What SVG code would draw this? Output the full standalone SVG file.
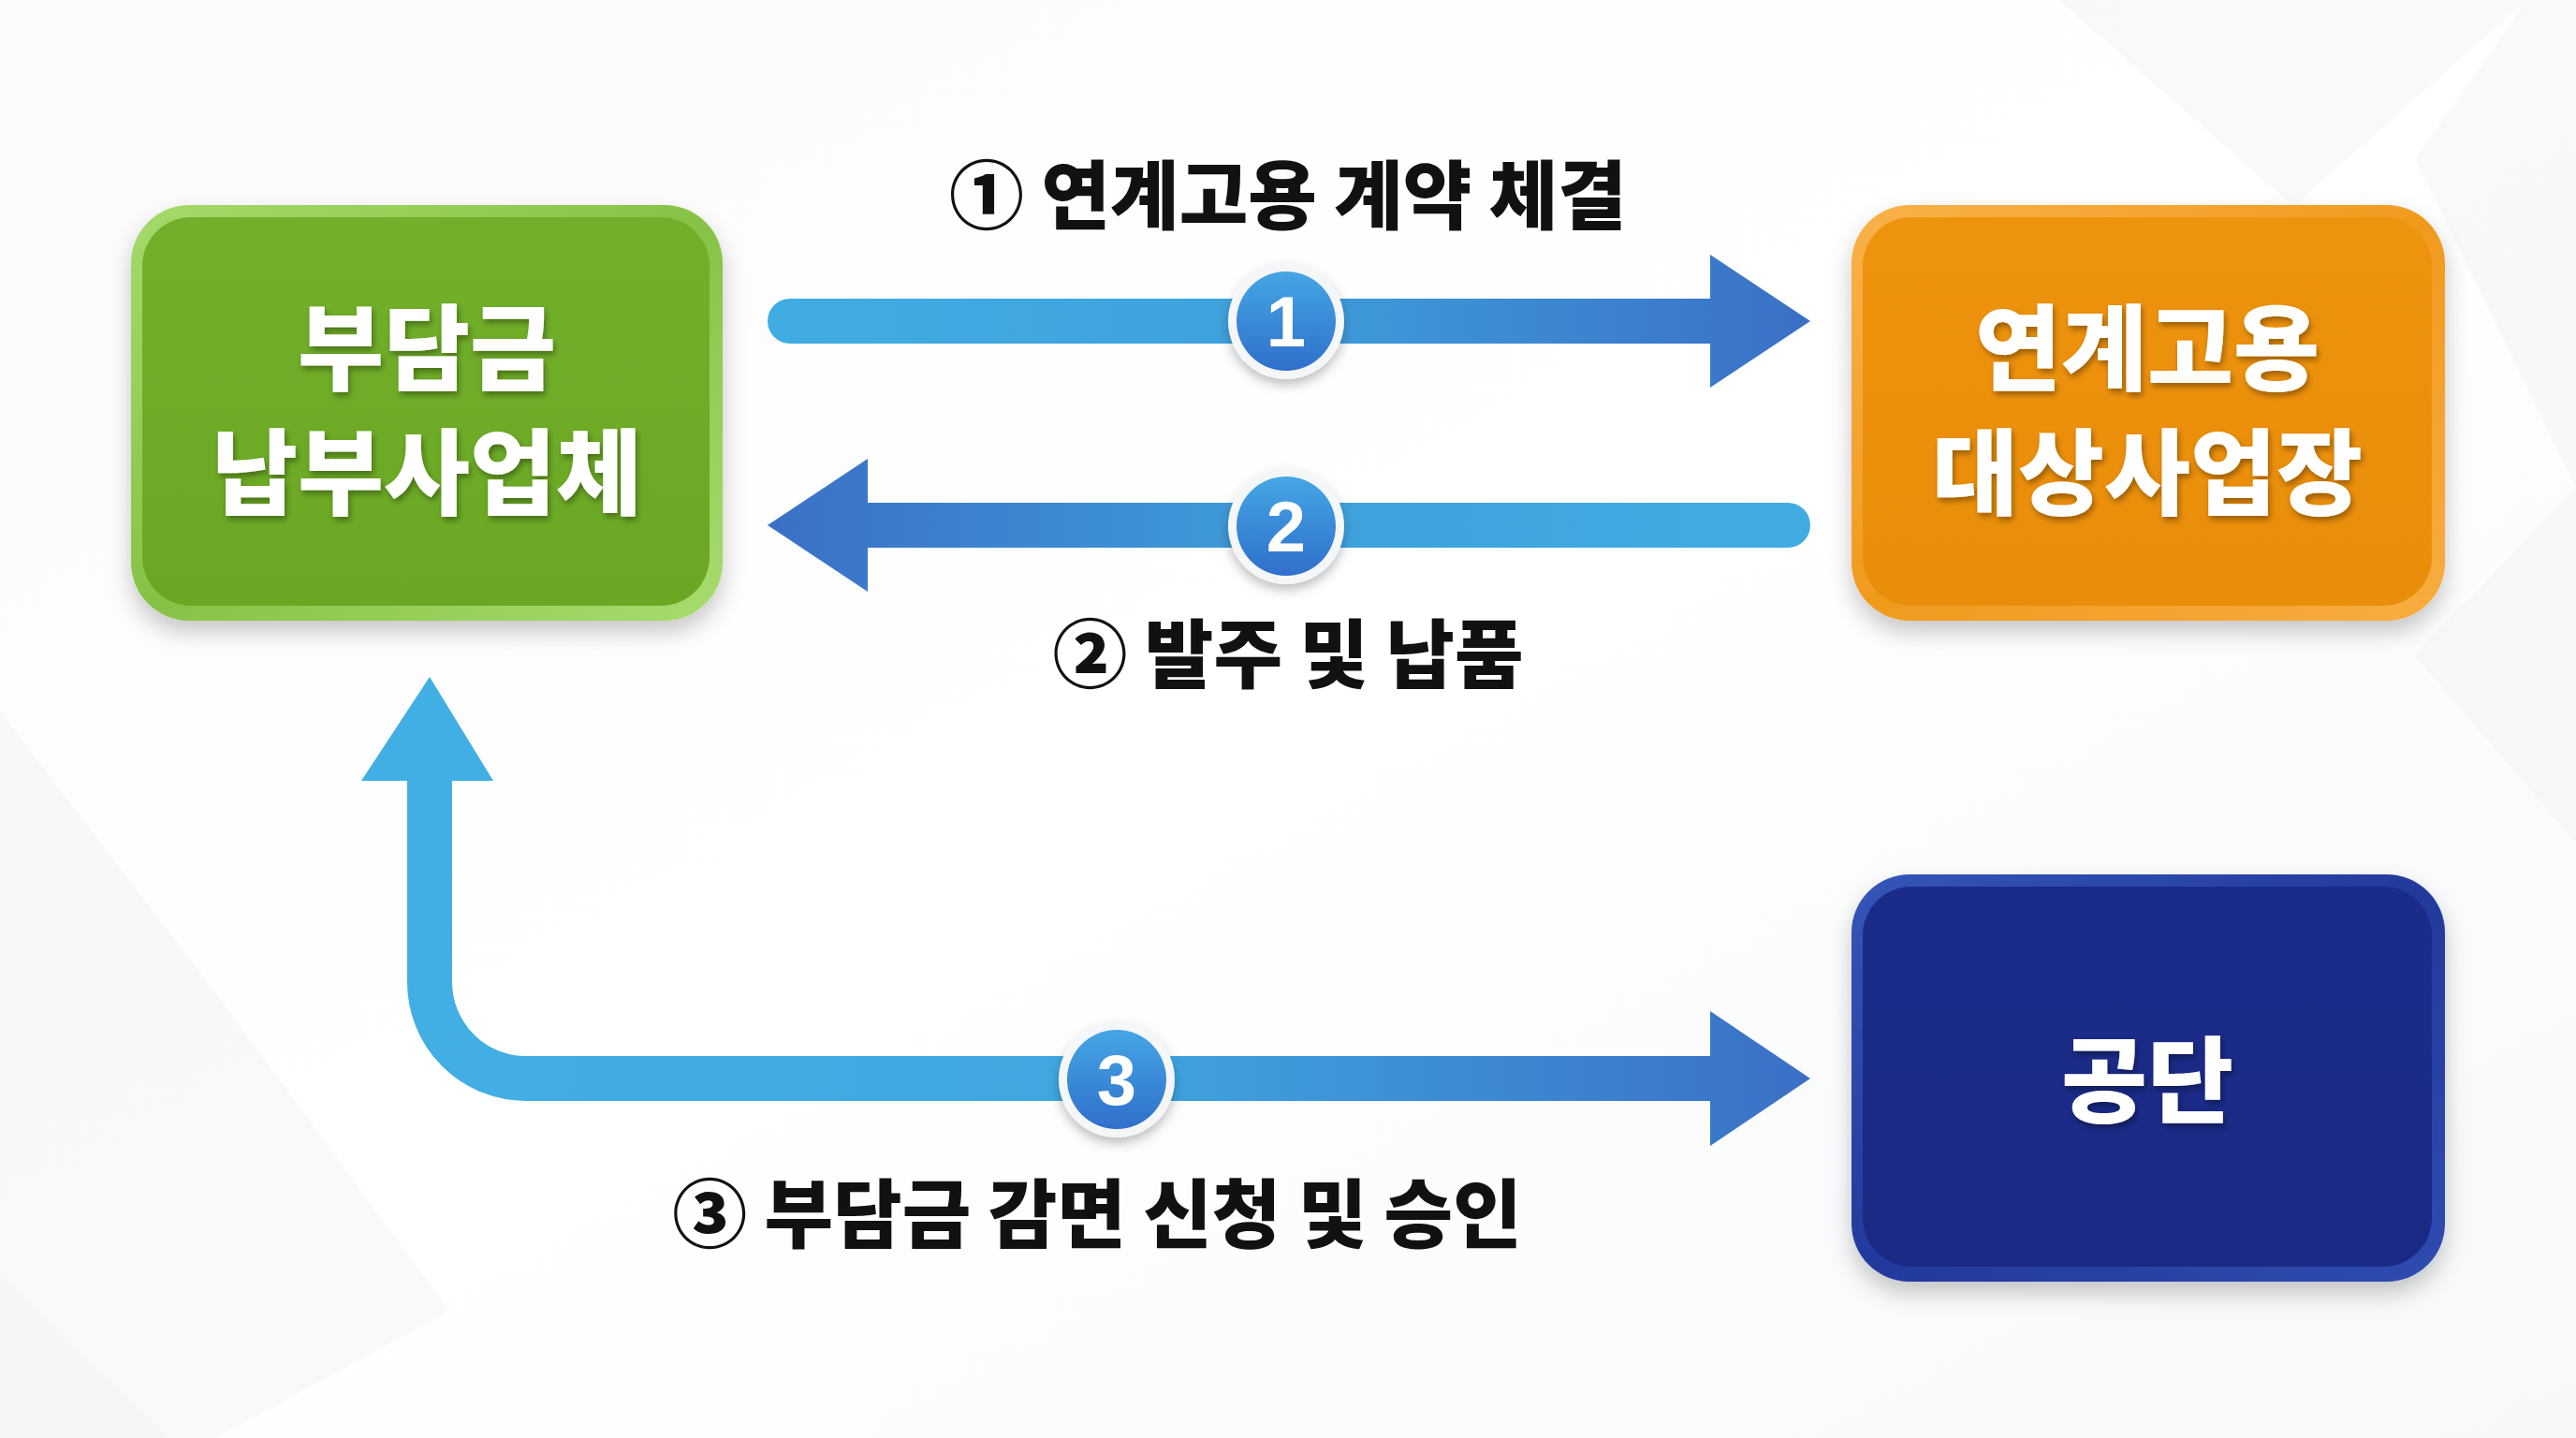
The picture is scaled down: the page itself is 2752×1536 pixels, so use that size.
<svg xmlns="http://www.w3.org/2000/svg" width="2752" height="1536" viewBox="0 0 2752 1536">
  <defs>
    <linearGradient id="bg" x1="0" y1="0" x2="1" y2="1">
      <stop offset="0" stop-color="#fbfbfc"/>
      <stop offset="0.5" stop-color="#ffffff"/>
      <stop offset="1" stop-color="#f7f8fa"/>
    </linearGradient>
    <linearGradient id="gRing" x1="0" y1="0" x2="1" y2="1">
      <stop offset="0" stop-color="#a6da6c"/>
      <stop offset="0.5" stop-color="#86c244"/>
      <stop offset="1" stop-color="#a8dc70"/>
    </linearGradient>
    <linearGradient id="gFill" x1="0" y1="0" x2="0" y2="1">
      <stop offset="0" stop-color="#72b02a"/>
      <stop offset="1" stop-color="#6aa823"/>
    </linearGradient>
    <linearGradient id="oRing" x1="0" y1="0" x2="1" y2="1">
      <stop offset="0" stop-color="#f8b24a"/>
      <stop offset="0.5" stop-color="#f09a1e"/>
      <stop offset="1" stop-color="#f7ad40"/>
    </linearGradient>
    <linearGradient id="oFill" x1="0" y1="0" x2="0" y2="1">
      <stop offset="0" stop-color="#ee930e"/>
      <stop offset="1" stop-color="#ea8d0a"/>
    </linearGradient>
    <linearGradient id="nRing" x1="0" y1="0" x2="1" y2="1">
      <stop offset="0" stop-color="#3356b8"/>
      <stop offset="0.5" stop-color="#23399c"/>
      <stop offset="1" stop-color="#2e4cb0"/>
    </linearGradient>
    <linearGradient id="nFill" x1="0" y1="0" x2="0" y2="1">
      <stop offset="0" stop-color="#1b2b8a"/>
      <stop offset="1" stop-color="#1a2a84"/>
    </linearGradient>
    <linearGradient id="arrR" gradientUnits="userSpaceOnUse" x1="820" y1="0" x2="1934" y2="0">
      <stop offset="0" stop-color="#40ace2"/>
      <stop offset="0.45" stop-color="#3fa2dc"/>
      <stop offset="1" stop-color="#3a70c6"/>
    </linearGradient>
    <linearGradient id="arrL" gradientUnits="userSpaceOnUse" x1="820" y1="0" x2="1934" y2="0">
      <stop offset="0" stop-color="#3a70c6"/>
      <stop offset="0.55" stop-color="#3fa2dc"/>
      <stop offset="1" stop-color="#40ace2"/>
    </linearGradient>
    <linearGradient id="arr3" gradientUnits="userSpaceOnUse" x1="430" y1="0" x2="1934" y2="0">
      <stop offset="0" stop-color="#42afe4"/>
      <stop offset="0.5" stop-color="#40a6df"/>
      <stop offset="1" stop-color="#3a70c6"/>
    </linearGradient>
    <linearGradient id="badge" x1="0" y1="0" x2="0" y2="1">
      <stop offset="0" stop-color="#45a6e4"/>
      <stop offset="1" stop-color="#2f6fcc"/>
    </linearGradient>
    <filter id="boxShadow" x="-10%" y="-10%" width="120%" height="130%">
      <feDropShadow dx="0" dy="12" stdDeviation="12" flood-color="#000" flood-opacity="0.22"/>
    </filter>
    <filter id="txtShadow" x="-10%" y="-10%" width="120%" height="130%">
      <feDropShadow dx="2" dy="4" stdDeviation="3" flood-color="#000" flood-opacity="0.35"/>
    </filter>
    <filter id="badgeShadow" x="-30%" y="-30%" width="160%" height="170%">
      <feDropShadow dx="0" dy="6" stdDeviation="6" flood-color="#000" flood-opacity="0.25"/>
    </filter>
  </defs>
  <style>
    .box-text { font-family: "Noto Sans CJK KR", "Noto Sans", sans-serif; font-weight: 900; font-size: 100px; fill: #ffffff; text-anchor: middle; }
    .label { font-family: "Noto Sans CJK KR", "Noto Sans", sans-serif; font-weight: 900; font-size: 80px; fill: #111111; text-anchor: middle; }
    .num { font-family: "Liberation Sans", "Noto Sans", sans-serif; font-weight: 700; font-size: 76px; fill: #ffffff; text-anchor: middle; }
  </style>

  <!-- background -->
  <rect x="0" y="0" width="2752" height="1536" fill="url(#bg)"/>
  <g fill="#eceff3" opacity="0.35">
    <polygon points="2580,170 2752,340 2752,0 2700,0"/>
    <polygon points="2580,170 2752,520 2752,340"/>
    <polygon points="0,760 230,1060 0,1360"/>
    <polygon points="0,1360 180,1536 0,1536"/>
    <polygon points="2200,0 2450,220 2700,0"/>
  </g>
  <g fill="#f0f2f5" opacity="0.45">
    <polygon points="230,1060 480,1400 230,1536 0,1536 0,1360"/>
    <polygon points="2580,700 2752,900 2752,520"/>
  </g>

  <!-- connectors -->
  <g id="connectors">
    <g id="arrow1">
      <path d="M 844 343 H 1832" stroke="url(#arrR)" stroke-width="48" stroke-linecap="round" fill="none"/>
      <polygon points="1827,272 1934,343 1827,414" fill="url(#arrR)"/>
    </g>
    <g id="arrow2">
      <path d="M 920 561 H 1910" stroke="url(#arrL)" stroke-width="48" stroke-linecap="round" fill="none"/>
      <polygon points="927,490 820,561 927,632" fill="url(#arrL)"/>
    </g>
    <g id="arrow3">
      <path d="M 459 830 V 1049 A 103 103 0 0 0 562 1152 H 1832" stroke="url(#arr3)" stroke-width="48" fill="none"/>
      <polygon points="386,834 459,723 527,834" fill="#42afe4"/>
      <polygon points="1827,1080 1934,1152 1827,1224" fill="url(#arr3)"/>
    </g>
    <g id="badge1" filter="url(#badgeShadow)">
      <circle cx="1374" cy="343" r="62" fill="#f4f6f8"/>
      <circle cx="1374" cy="343" r="53" fill="url(#badge)"/>
      <text class="num" x="1374" y="370">1</text>
    </g>
    <g id="badge2" filter="url(#badgeShadow)">
      <circle cx="1374" cy="562" r="62" fill="#f4f6f8"/>
      <circle cx="1374" cy="562" r="53" fill="url(#badge)"/>
      <text class="num" x="1374" y="589">2</text>
    </g>
    <g id="badge3" filter="url(#badgeShadow)">
      <circle cx="1193" cy="1153" r="62" fill="#f4f6f8"/>
      <circle cx="1193" cy="1153" r="53" fill="url(#badge)"/>
      <text class="num" x="1193" y="1180">3</text>
    </g>
    <text class="label" x="1376" y="238">① 연계고용 계약 체결</text>
    <text class="label" x="1376" y="728">② 발주 및 납품</text>
    <text class="label" x="1172" y="1326">③ 부담금 감면 신청 및 승인</text>
  </g>

  <!-- nodes -->
  <g id="node-payer">
    <rect x="140" y="219" width="632" height="444" rx="62" fill="url(#gRing)" filter="url(#boxShadow)"/>
    <rect x="152" y="232" width="606" height="415" rx="52" fill="url(#gFill)"/>
    <g filter="url(#txtShadow)">
      <text class="box-text" x="456" y="409">부담금</text>
      <text class="box-text" x="456" y="542">납부사업체</text>
    </g>
  </g>

  <g id="node-target">
    <rect x="1978" y="219" width="634" height="444" rx="62" fill="url(#oRing)" filter="url(#boxShadow)"/>
    <rect x="1990" y="232" width="608" height="415" rx="52" fill="url(#oFill)"/>
    <g filter="url(#txtShadow)">
      <text class="box-text" x="2294" y="409">연계고용</text>
      <text class="box-text" x="2294" y="542">대상사업장</text>
    </g>
  </g>

  <g id="node-agency">
    <rect x="1978" y="934" width="634" height="435" rx="62" fill="url(#nRing)" filter="url(#boxShadow)"/>
    <rect x="1990" y="947" width="608" height="406" rx="52" fill="url(#nFill)"/>
    <g filter="url(#txtShadow)">
      <text class="box-text" x="2294" y="1191">공단</text>
    </g>
  </g>
</svg>
